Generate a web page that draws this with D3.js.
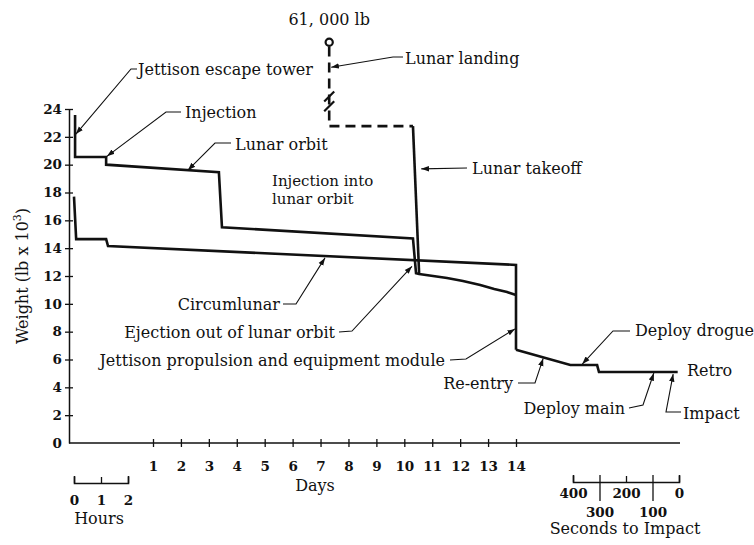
<!DOCTYPE html>
<html>
<head>
<meta charset="utf-8">
<script src="https://cdn.jsdelivr.net/npm/d3@7"></script>
<style>
  body { margin: 0; background: #fff; }
  text { font-family: "DejaVu Serif", serif; fill: #111; }
</style>
</head>
<body>
<script>
// ejes
let yTicks = [0, 2, 4, 6, 8, 10, 12, 14, 16, 18, 20, 22, 24];
let diasTicks = [1, 2, 3, 4, 5, 6, 7, 8, 9, 10, 11, 12, 13, 14];
let horasTicks = [0, 1, 2];
let segTicks = [400, 300, 200, 100, 0];

// unidades: h = horas, d = dias, s = segundos al impacto
// mision con alunizaje (orbita lunar)
let lunarU = ['h', 'h', 'h', 'h', 'd', 'd', 'd', 'd', 'd', 'd', 'd', 'd', 'd', 'd', 'd'];
let lunarT = [0.04, 0.04, 1.19, 1.19, 3.36, 3.47, 10.31, 10.42, 10.53, 11.53, 12.10, 12.72, 13.22, 13.68, 14];
let lunarW = [23.56, 20.55, 20.55, 20.0, 19.45, 15.5, 14.7, 12.2, 12.14, 11.85, 11.64, 11.35, 11.06, 10.85, 10.63];

// mision circunlunar
let circU = ['h', 'h', 'h', 'h', 'd', 'd'];
let circT = [0, 0.08, 1.19, 1.26, 14, 14];
let circW = [17.7, 14.65, 14.65, 14.15, 12.8, 6.7];

// reentrada (comun)
let reentradaU = ['d', 's', 's', 's', 's'];
let reentradaT = [14, 410, 309, 302, 5];
let reentradaW = [6.7, 5.6, 5.6, 5.1, 5.1];

// alunizaje (discontinua) y despegue lunar
let alunizajeU = ['d', 'd', 'd'];
let alunizajeT = [7.31, 7.31, 10.31];
let alunizajeW = [28.5, 22.77, 22.77];
let despegueU = ['d', 'd'];
let despegueT = [10.31, 10.53];
let despegueW = [22.77, 12.2];
let pesoInicial = { t: 7.31, w: 28.8, texto: '61, 000 lb' };

let svg = d3.select('body')
    .append('svg')
    .attr('width', 754)
    .attr('height', 545);

let y = d3.scaleLinear().domain([0, 24]).range([443, 109]);
let xHoras = d3.scaleLinear().domain([0, 2]).range([74, 128]);
let xDias = d3.scaleLinear().domain([1, 14]).range([153, 516]);
let xSeg = d3.scaleLinear().domain([400, 0]).range([573, 679]);

function xPos(u, t) {
    if (u == 'h') return xHoras(t);
    if (u == 'd') return xDias(t);
    return xSeg(t);
}

let linea = d3.line()
    .x((d) => xPos(d[0], d[1]))
    .y((d) => y(d[2]));

svg.append('defs').append('marker')
    .attr('id', 'flecha')
    .attr('viewBox', '0 0 10 10')
    .attr('refX', 10)
    .attr('refY', 5)
    .attr('markerWidth', 7)
    .attr('markerHeight', 7)
    .attr('orient', 'auto')
    .append('path')
    .attr('d', 'M0,1.5L10,5L0,8.5z')
    .attr('fill', '#111');

let numeros = (sel) => sel.style('font-size', '13.5px').style('font-weight', 'bold')
    .attr('fill', '#111').style('font-family', '"DejaVu Serif", serif');

// eje Y
let ejeY = svg.append('g')
    .attr('transform', 'translate(69,0)')
    .call(d3.axisLeft(y).tickValues(yTicks).tickSize(4).tickSizeOuter(0).tickPadding(3));
ejeY.select('.domain').attr('stroke', '#111').attr('stroke-width', 1.5);
ejeY.selectAll('.tick line').attr('x1', 4).attr('stroke', '#111').attr('stroke-width', 1.3)
    .filter((d) => d == 0).remove();
numeros(ejeY.selectAll('.tick text'));

let tituloY = svg.append('text')
    .attr('transform', 'translate(28,276) rotate(-90)')
    .attr('text-anchor', 'middle')
    .style('font-size', '16px');
tituloY.append('tspan').text('Weight (lb x 10');
tituloY.append('tspan').attr('dy', -7).style('font-size', '11px').text('3');
tituloY.append('tspan').attr('dy', 7).text(')');

// eje X (dias)
svg.append('line')
    .attr('x1', 69).attr('x2', xSeg(0) + 1)
    .attr('y1', y(0)).attr('y2', y(0))
    .attr('stroke', '#111').attr('stroke-width', 1.5);
let ejeX = svg.append('g')
    .attr('transform', `translate(0,${y(0)})`)
    .call(d3.axisBottom(xDias).tickValues(diasTicks).tickSize(4).tickSizeOuter(0).tickPadding(14));
ejeX.select('.domain').remove();
ejeX.selectAll('.tick line').attr('y1', -4).attr('stroke', '#111').attr('stroke-width', 1.3);
numeros(ejeX.selectAll('.tick text'));
svg.append('text').attr('x', 315).attr('y', 485).attr('dy', '0.35em')
    .attr('text-anchor', 'middle').style('font-size', '16px').text('Days');

// escala de horas
let ejeH = svg.append('g')
    .attr('transform', 'translate(0,483)')
    .call(d3.axisBottom(xHoras).tickValues(horasTicks).tickFormat(d3.format('d'))
        .tickSizeInner(-6).tickSizeOuter(-7).tickPadding(12));
ejeH.select('.domain').attr('stroke', '#111').attr('stroke-width', 1.6);
ejeH.selectAll('.tick line').attr('stroke', '#111').attr('stroke-width', 1.3);
numeros(ejeH.selectAll('.tick text'));
svg.append('text').attr('x', 99).attr('y', 518).attr('dy', '0.35em')
    .attr('text-anchor', 'middle').style('font-size', '16px').text('Hours');

// escala de segundos al impacto
let ejeS = svg.append('g')
    .attr('transform', 'translate(0,482)')
    .call(d3.axisBottom(xSeg).tickValues(segTicks).tickFormat(d3.format('d'))
        .tickSizeInner(-6).tickSizeOuter(-7).tickPadding(6));
ejeS.select('.domain').attr('stroke', '#111').attr('stroke-width', 1.6);
ejeS.selectAll('.tick line').attr('stroke', '#111').attr('stroke-width', 1.3)
    .filter((d) => d == 300 || d == 100).attr('y1', -7).attr('y2', 19);
numeros(ejeS.selectAll('.tick text'))
    .filter((d) => d == 300 || d == 100).attr('y', 25);
svg.append('text').attr('x', 625).attr('y', 528).attr('dy', '0.35em')
    .attr('text-anchor', 'middle').style('font-size', '16px').text('Seconds to Impact');

// curvas
let series = [
    [lunarU, lunarT, lunarW],
    [circU, circT, circW],
    [reentradaU, reentradaT, reentradaW],
    [despegueU, despegueT, despegueW]
];
svg.selectAll('path.curva')
    .data(series)
    .enter()
    .append('path')
    .attr('class', 'curva')
    .attr('d', (s) => linea(d3.zip(s[0], s[1], s[2])))
    .attr('fill', 'none')
    .attr('stroke', '#111')
    .attr('stroke-width', 2.6)
    .attr('stroke-linejoin', 'miter');

svg.append('path')
    .attr('d', linea(d3.zip(alunizajeU, alunizajeT, alunizajeW)))
    .attr('fill', 'none')
    .attr('stroke', '#111')
    .attr('stroke-width', 2.6)
    .attr('stroke-dasharray', '10,6');

// marcas de corte en la discontinua
let xc = xDias(pesoInicial.t);
[24.9, 24.2].forEach((w) => {
    svg.append('line')
        .attr('x1', xc - 5).attr('y1', y(w) + 5)
        .attr('x2', xc + 5).attr('y2', y(w) - 5)
        .attr('stroke', '#111').attr('stroke-width', 2.2);
});

svg.append('circle')
    .attr('cx', xDias(pesoInicial.t))
    .attr('cy', y(pesoInicial.w))
    .attr('r', 3.6)
    .attr('fill', '#fff')
    .attr('stroke', '#111')
    .attr('stroke-width', 2.2);
svg.append('text')
    .attr('x', xDias(pesoInicial.t)).attr('y', 19).attr('dy', '0.35em')
    .attr('text-anchor', 'middle').style('font-size', '16px').text(pesoInicial.texto);

// anotaciones con flechas
let entre = (a, b) => (a + b) / 2;
let notas = [
    { texto: 'Jettison escape tower', x: 138, y: 69, a: 'start', p: [[137, 69], [131, 69], [xHoras(0.07), y(22.2)]] },
    { texto: 'Injection', x: 185, y: 112, a: 'start', p: [[181, 112], [166, 112], [xHoras(1.22), y(20.6)]] },
    { texto: 'Lunar orbit', x: 235, y: 144, a: 'start', p: [[231, 143], [215, 143], [xDias(2.25), y(19.6)]] },
    { texto: 'Lunar landing', x: 405, y: 58, a: 'start', p: [[403, 57], [393, 57], [xDias(7.31) + 2, y(27.0)]] },
    { texto: 'Lunar takeoff', x: 472, y: 168, a: 'start', p: [[467, 168], [xDias(10.5) + 3, y(19.7)]] },
    { texto: 'Circumlunar', x: 280, y: 304, a: 'end', p: [[283, 304], [296, 304], [xDias(7.16), y(13.3)]] },
    { texto: 'Ejection out of lunar orbit', x: 335, y: 332, a: 'end', p: [[339, 332], [352, 331], [xDias(10.31) - 1, y(12.7)]] },
    { texto: 'Jettison propulsion and equipment module', x: 445, y: 360, a: 'end', p: [[450, 360], [466, 359], [xDias(14) - 1, y(8.2)]] },
    { texto: 'Re-entry', x: 513, y: 383, a: 'end', p: [[518, 383], [535, 383], [entre(xDias(14), xSeg(410)), y(entre(6.7, 5.6)) + 1]] },
    { texto: 'Deploy drogue', x: 635, y: 330, a: 'start', p: [[630, 331], [613, 331], [xSeg(365), y(5.6) - 1]] },
    { texto: 'Retro', x: 687, y: 370, a: 'start', p: null },
    { texto: 'Deploy main', x: 625, y: 408, a: 'end', p: [[629, 408], [643, 405], [xSeg(95), y(5.1) + 1]] },
    { texto: 'Impact', x: 683, y: 413, a: 'start', p: [[681, 412], [666, 412], [xSeg(22), y(5.1) + 2]] }
];

svg.selectAll('path.guia')
    .data(notas.filter((d) => d.p))
    .enter()
    .append('path')
    .attr('class', 'guia')
    .attr('d', (d) => d3.line()(d.p))
    .attr('fill', 'none')
    .attr('stroke', '#111')
    .attr('stroke-width', 1.1)
    .attr('marker-end', 'url(#flecha)');

svg.selectAll('text.nota')
    .data(notas)
    .enter()
    .append('text')
    .attr('class', 'nota')
    .attr('x', (d) => d.x)
    .attr('y', (d) => d.y)
    .attr('dy', '0.35em')
    .attr('text-anchor', (d) => d.a)
    .style('font-size', '16px')
    .text((d) => d.texto);

// texto de dos lineas, cada linea en su propio elemento
['Injection into', 'lunar orbit'].forEach((t, i) => {
    svg.append('text')
        .attr('x', 272).attr('y', 181 + i * 17.5)
        .attr('dy', '0.35em')
        .style('font-size', '15px')
        .text(t);
});
</script>
</body>
</html>
